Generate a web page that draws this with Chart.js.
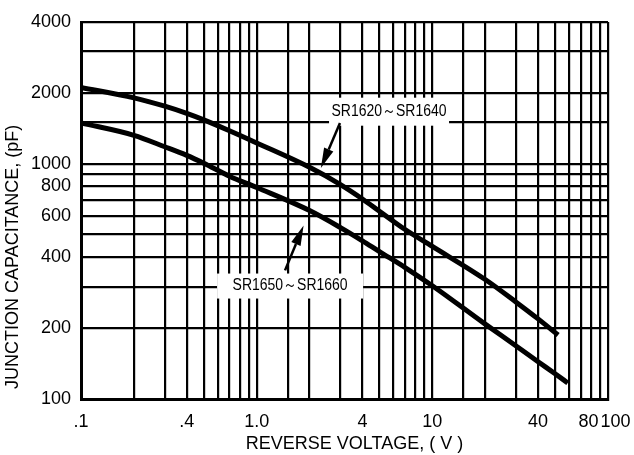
<!DOCTYPE html>
<html lang="en">
<head>
  <meta charset="UTF-8" />
  <title>Junction Capacitance</title>
  <script src="https://cdn.jsdelivr.net/npm/chart.js"></script>
  <style>
    body {
      margin: 0;
      padding: 0;
      background: #ffffff;
    }
    canvas {
      display: block;
    }
  </style>
</head>
<body>
  <canvas id="capChart" width="634" height="455"></canvas>

  <script>
    // reverse voltage (V) and junction capacitance (pF)
    const voltsA = [0.1, 0.2, 0.3, 0.4, 0.5, 0.7, 1, 2, 3, 4, 5, 7, 10, 20, 30, 40, 52];
    const capA   = [2110, 1905, 1755, 1635, 1535, 1380, 1225, 965, 815, 708, 628, 525, 445, 322, 258, 219, 187];
    const voltsB = [0.1, 0.2, 0.3, 0.4, 0.5, 0.7, 1, 2, 3, 4, 5, 7, 10, 20, 30, 40, 50, 59];
    const capB   = [1490, 1320, 1180, 1085, 1005, 885, 792, 632, 535, 470, 423, 362, 303, 208, 168, 144, 128, 117];

    const xTickLabels = { 0.1: '.1', 0.4: '.4', 1: '1.0', 4: '4', 10: '10', 40: '40', 80: '80 ', 100: '   100' };
    const yTickLabels = [100, 200, 400, 600, 800, 1000, 2000, 4000];

    // callouts, placed in data units
    const callouts = [
      { text: 'SR1620～SR1640', x: 5.67, y: 1663, boxW: 120, boxH: 28,
        from: [2.98, 1489], to: [2.32, 959] },
      { text: 'SR1650～SR1660', x: 1.55, y: 302, boxW: 146, boxH: 25,
        from: [1.45, 352], to: [1.85, 546] }
    ];

    const FONT = "'Liberation Sans', Arial, sans-serif";
    const NOTE_FONT = "16px 'Liberation Sans', Arial, sans-serif";
    const NOTE_TEXT_W = 115;

    function toPoints(xs, ys) {
      return xs.map((x, i) => ({ x: x, y: ys[i] }));
    }

    function findLabel(v) {
      for (const k in xTickLabels) {
        if (Math.abs(parseFloat(k) - v) < 1e-6 * Math.max(1, v)) return xTickLabels[k];
      }
      return '';
    }

    const calloutPlugin = {
      id: 'callouts',
      afterDatasetsDraw(chart) {
        const ctx = chart.ctx;
        const xs = chart.scales.x;
        const ys = chart.scales.y;
        ctx.save();
        callouts.forEach(c => {
          const cx = xs.getPixelForValue(c.x);
          const cy = ys.getPixelForValue(c.y);
          ctx.fillStyle = '#ffffff';
          ctx.fillRect(cx - c.boxW / 2, cy - c.boxH / 2, c.boxW, c.boxH);
          ctx.fillStyle = '#000000';
          ctx.font = NOTE_FONT;
          ctx.textAlign = 'center';
          ctx.textBaseline = 'middle';
          // the original lettering is a condensed face, so squeeze it a bit
          ctx.fillText(c.text, cx, cy, NOTE_TEXT_W);

          // arrow
          const x1 = xs.getPixelForValue(c.from[0]);
          const y1 = ys.getPixelForValue(c.from[1]);
          const x2 = xs.getPixelForValue(c.to[0]);
          const y2 = ys.getPixelForValue(c.to[1]);
          const ang = Math.atan2(y2 - y1, x2 - x1);
          const headLen = 20, headW = 5;
          const bx = x2 - headLen * Math.cos(ang);
          const by = y2 - headLen * Math.sin(ang);
          ctx.strokeStyle = '#000000';
          ctx.lineWidth = 2.5;
          ctx.beginPath();
          ctx.moveTo(x1, y1);
          ctx.lineTo(bx, by);
          ctx.stroke();
          ctx.beginPath();
          ctx.moveTo(x2, y2);
          ctx.lineTo(bx + headW * Math.sin(ang), by - headW * Math.cos(ang));
          ctx.lineTo(bx - headW * Math.sin(ang), by + headW * Math.cos(ang));
          ctx.closePath();
          ctx.fill();
        });
        ctx.restore();
      }
    };

    const ctx = document.getElementById('capChart').getContext('2d');
    const chart = new Chart(ctx, {
      type: 'line',
      data: {
        datasets: [
          {
            label: 'SR1620~SR1640',
            data: toPoints(voltsA, capA),
            borderColor: '#000000',
            borderWidth: 5,
            borderCapStyle: 'butt',
            pointRadius: 0,
            cubicInterpolationMode: 'monotone',
            fill: false
          },
          {
            label: 'SR1650~SR1660',
            data: toPoints(voltsB, capB),
            borderColor: '#000000',
            borderWidth: 5,
            borderCapStyle: 'butt',
            pointRadius: 0,
            cubicInterpolationMode: 'monotone',
            fill: false
          }
        ]
      },
      options: {
        responsive: false,
        animation: false,
        devicePixelRatio: 1,
        layout: {
          padding: { top: 22, right: 26, left: 0, bottom: 0 }
        },
        plugins: {
          legend: { display: false },
          tooltip: { enabled: false }
        },
        scales: {
          x: {
            type: 'logarithmic',
            min: 0.1,
            max: 100,
            afterFit: scale => {
              scale.height = 56;
              scale.paddingLeft = 0;
              scale.paddingRight = 0;
            },
            grid: { color: '#000000', lineWidth: 2.2, drawTicks: false },
            border: { display: true, color: '#000000', width: 3 },
            ticks: {
              autoSkip: false,
              maxRotation: 0,
              padding: 12,
              color: '#000000',
              font: { family: FONT, size: 18 },
              callback: value => findLabel(value)
            },
            title: {
              display: true,
              text: '    REVERSE VOLTAGE, ( V )',
              color: '#000000',
              font: { family: FONT, size: 18 },
              padding: { top: 0, bottom: 0 }
            }
          },
          y: {
            type: 'logarithmic',
            min: 100,
            max: 4000,
            afterFit: scale => {
              scale.width = 81;
              scale.paddingTop = 0;
              scale.paddingBottom = 0;
            },
            grid: { color: '#000000', lineWidth: 2.2, drawTicks: false },
            border: { display: true, color: '#000000', width: 3 },
            ticks: {
              autoSkip: false,
              padding: 10,
              color: '#000000',
              font: { family: FONT, size: 18 },
              callback: value => yTickLabels.includes(Math.round(value)) ? String(Math.round(value)) : ''
            },
            title: {
              display: true,
              text: '  JUNCTION CAPACITANCE, (pF)',
              align: 'start',
              color: '#000000',
              font: { family: FONT, size: 18 },
              padding: { top: 2, bottom: 0 }
            }
          }
        }
      },
      plugins: [calloutPlugin]
    });
  </script>
</body>
</html>
